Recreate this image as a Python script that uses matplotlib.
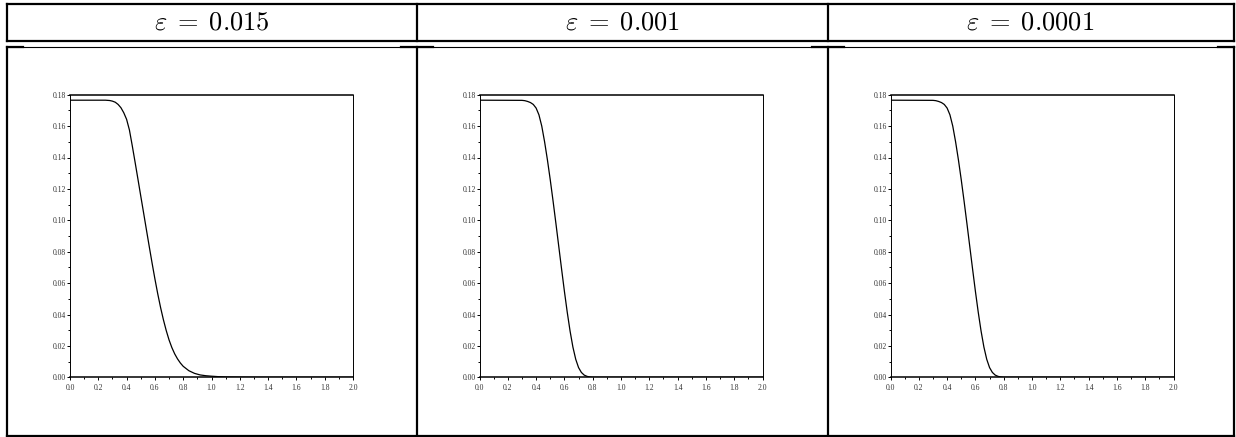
import matplotlib
matplotlib.use('Agg')
import matplotlib.pyplot as plt
from matplotlib.ticker import MultipleLocator, FormatStrFormatter

plt.rcParams['mathtext.fontset'] = 'cm'

titles = [r'$\varepsilon\;=\;0.015$', r'$\varepsilon\;=\;0.001$', r'$\varepsilon\;=\;0.0001$']

# curves
x1 = [0.0, 0.25, 0.28, 0.30, 0.32, 0.34, 0.36, 0.38, 0.40, 0.42, 0.44, 0.46, 0.48, 0.50,
      0.52, 0.54, 0.56, 0.58, 0.60, 0.62, 0.64, 0.66, 0.68, 0.70, 0.72, 0.74, 0.76, 0.78,
      0.80, 0.84, 0.88, 0.92, 0.96, 1.0, 1.05, 1.1, 1.2, 1.3, 2.0]
y1 = [0.1765, 0.1765, 0.1763, 0.1759, 0.1752, 0.1738, 0.1717, 0.1685, 0.1643, 0.1575, 0.1475,
      0.1370, 0.1263, 0.1155, 0.1048, 0.0940, 0.0833, 0.0728, 0.0627, 0.0532, 0.0445, 0.0367,
      0.0298, 0.0238, 0.0189, 0.0149, 0.0117, 0.0091, 0.0070, 0.0042, 0.0025, 0.0015, 0.0010,
      0.0007, 0.0004, 0.0002, 0.0001, 0.0, 0.0]

x2 = [0.0, 0.30, 0.32, 0.34, 0.36, 0.38, 0.40, 0.42, 0.44, 0.46, 0.48, 0.50, 0.52, 0.54,
      0.56, 0.58, 0.60, 0.62, 0.64, 0.66, 0.68, 0.70, 0.72, 0.74, 0.76, 0.78, 0.80, 2.0]
y2 = [0.1765, 0.1764, 0.1762, 0.1757, 0.1750, 0.1738, 0.1715, 0.1672, 0.1600, 0.1500, 0.1385,
      0.1258, 0.1122, 0.0980, 0.0835, 0.0690, 0.0548, 0.0415, 0.0295, 0.0193, 0.0115, 0.0062,
      0.0031, 0.0014, 0.0006, 0.0002, 0.0, 0.0]

x3 = [0.0, 0.30, 0.32, 0.34, 0.36, 0.38, 0.40, 0.42, 0.44, 0.46, 0.48, 0.50, 0.52, 0.54,
      0.56, 0.58, 0.60, 0.62, 0.64, 0.66, 0.68, 0.70, 0.72, 0.74, 0.76, 0.78, 0.80, 2.0]
y3 = [0.1765, 0.1764, 0.1762, 0.1757, 0.1750, 0.1738, 0.1715, 0.1672, 0.1600, 0.1500, 0.1385,
      0.1258, 0.1122, 0.0980, 0.0835, 0.0690, 0.0548, 0.0415, 0.0295, 0.0193, 0.0115, 0.0062,
      0.0031, 0.0014, 0.0006, 0.0002, 0.0, 0.0]

curves = [(x1, y1), (x2, y2), (x3, y3)]

W, H = 1236, 437
fig = plt.figure(figsize=(W / 100, H / 100), dpi=100)

# table frame drawn in pixel coords
bg = fig.add_axes([0, 0, 1, 1])
bg.set_xlim(0, W)
bg.set_ylim(H, 0)
bg.axis('off')

cols = [7, 416.5, 827.5, 1233.5]
bg.plot([7, 1233.5], [3.5, 3.5], color='k', lw=1.6)
bg.plot([7, 1233.5], [41, 41], color='k', lw=1.6)
bg.plot([7, 1233.5], [46.8, 46.8], color='k', lw=0.8)
bg.plot([7, 1233.5], [435.8, 435.8], color='k', lw=1.6)
for c in cols:
    bg.plot([c, c], [3.5, 41], color='k', lw=1.6)
    bg.plot([c, c], [46.8, 435.8], color='k', lw=1.6)
    bg.plot([max(c - 16, 7), min(c + 16, 1233.5)], [47, 47], color='k', lw=1.6)

for i in range(3):
    bg.text((cols[i] + cols[i + 1]) / 2, 23, titles[i], fontsize=19,
            ha='center', va='center')

for i, (xs, ys) in enumerate(curves):
    left = cols[i] + 63
    ax = fig.add_axes([left / W, (H - 377.3) / H, 283 / W, 282.6 / H])
    ax.plot(xs, ys, color='k', lw=0.9)
    ax.set_xlim(0, 2.0)
    ax.set_ylim(0, 0.18)
    ax.xaxis.set_major_locator(MultipleLocator(0.2))
    ax.xaxis.set_minor_locator(MultipleLocator(0.1))
    ax.yaxis.set_major_locator(MultipleLocator(0.02))
    ax.yaxis.set_minor_locator(MultipleLocator(0.01))
    ax.xaxis.set_major_formatter(FormatStrFormatter('%.1f'))
    ax.yaxis.set_major_formatter(FormatStrFormatter('%.2f'))
    ax.tick_params(which='both', direction='out', width=0.7, colors='k',
                   labelcolor='#333333')
    ax.tick_params(which='major', length=2.2)
    ax.tick_params(which='minor', length=1.5)
    ax.tick_params(axis='x', pad=2.5)
    ax.tick_params(axis='y', pad=0.5)
    for lab in ax.get_xticklabels() + ax.get_yticklabels():
        lab.set_family('Liberation Serif')
        lab.set_fontsize(5.5)
    ax.spines['left'].set_linewidth(0.7)
    ax.spines['right'].set_linewidth(0.7)
    ax.spines['top'].set_linewidth(1.1)
    ax.spines['bottom'].set_linewidth(1.1)

fig.savefig('out.png', dpi=100)
